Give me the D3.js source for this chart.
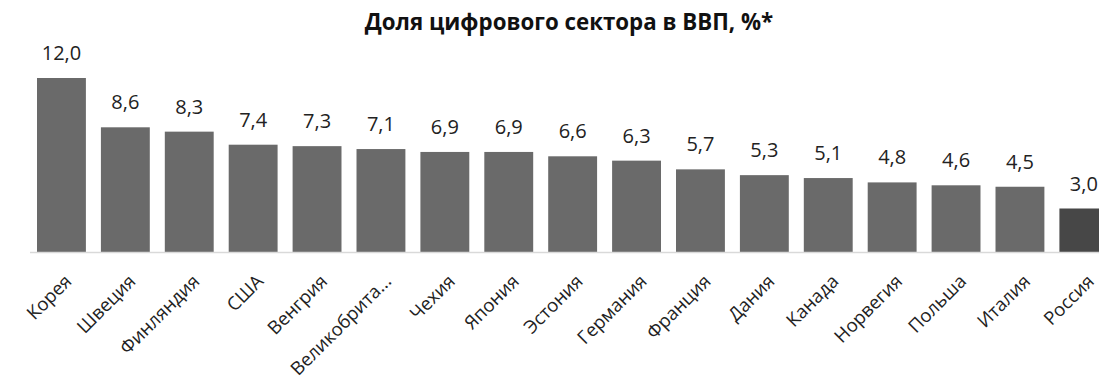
<!DOCTYPE html>
<html>
<head>
<meta charset="utf-8">
<script src="https://cdn.jsdelivr.net/npm/d3@7"></script>
<style>
  body { margin: 0; background: #fff; }
  svg { display: block; font-family: "Open Sans", sans-serif; }
</style>
</head>
<body>
<script>
const countries = ["Корея", "Швеция", "Финляндия", "США", "Венгрия", "Великобрита...", "Чехия", "Япония",
    "Эстония", "Германия", "Франция", "Дания", "Канада", "Норвегия", "Польша", "Италия", "Россия"]
const values = [12.0, 8.6, 8.3, 7.4, 7.3, 7.1, 6.9, 6.9, 6.6, 6.3, 5.7, 5.3, 5.1, 4.8, 4.6, 4.5, 3.0]
const highlight = ["Россия"]
const title = "Доля цифрового сектора в ВВП, %*"

const width = 1099, height = 381
const baseline = 252

const svg = d3.select("body").append("svg")
    .attr("width", width)
    .attr("height", height)

const x = d3.scaleBand()
    .domain(countries)
    .range([29.5, 29.5 + 17 * 63.9])
    .paddingInner(0.235)
    .paddingOuter(0.1175)

const y = d3.scaleLinear()
    .domain([0, 12])
    .range([baseline, 78])

svg.append("text")
    .attr("x", 569)
    .attr("y", 30)
    .attr("text-anchor", "middle")
    .attr("font-weight", "bold")
    .attr("font-size", 22.3)
    .attr("fill", "#111")
    .text(title)

svg.append("g")
    .selectAll("rect")
    .data(countries)
    .join("rect")
    .attr("x", d => x(d))
    .attr("width", x.bandwidth())
    .attr("y", (d, i) => y(values[i]))
    .attr("height", (d, i) => baseline - y(values[i]))
    .attr("fill", d => highlight.includes(d) ? "#474747" : "#6a6a6a")

svg.append("line")
    .attr("x1", 30)
    .attr("x2", width)
    .attr("y1", baseline + 0.5)
    .attr("y2", baseline + 0.5)
    .attr("stroke", "#d9d9d9")
    .attr("stroke-width", 1.5)

svg.append("g")
    .selectAll("text")
    .data(countries)
    .join("text")
    .attr("x", d => x(d) + x.bandwidth() / 2)
    .attr("y", (d, i) => y(values[i]) - 18)
    .attr("text-anchor", "middle")
    .attr("font-size", 20)
    .attr("fill", "#222")
    .text((d, i) => d3.format(".1f")(values[i]).replace(".", ","))

svg.append("g")
    .selectAll("text")
    .data(countries)
    .join("text")
    .attr("transform", d => `translate(${x(d) + x.bandwidth() / 2 + 2},${baseline + 21}) rotate(-45)`)
    .attr("dy", "0.72em")
    .attr("text-anchor", "end")
    .attr("font-size", 18.5)
    .attr("fill", "#222")
    .text(d => d)
</script>
</body>
</html>
